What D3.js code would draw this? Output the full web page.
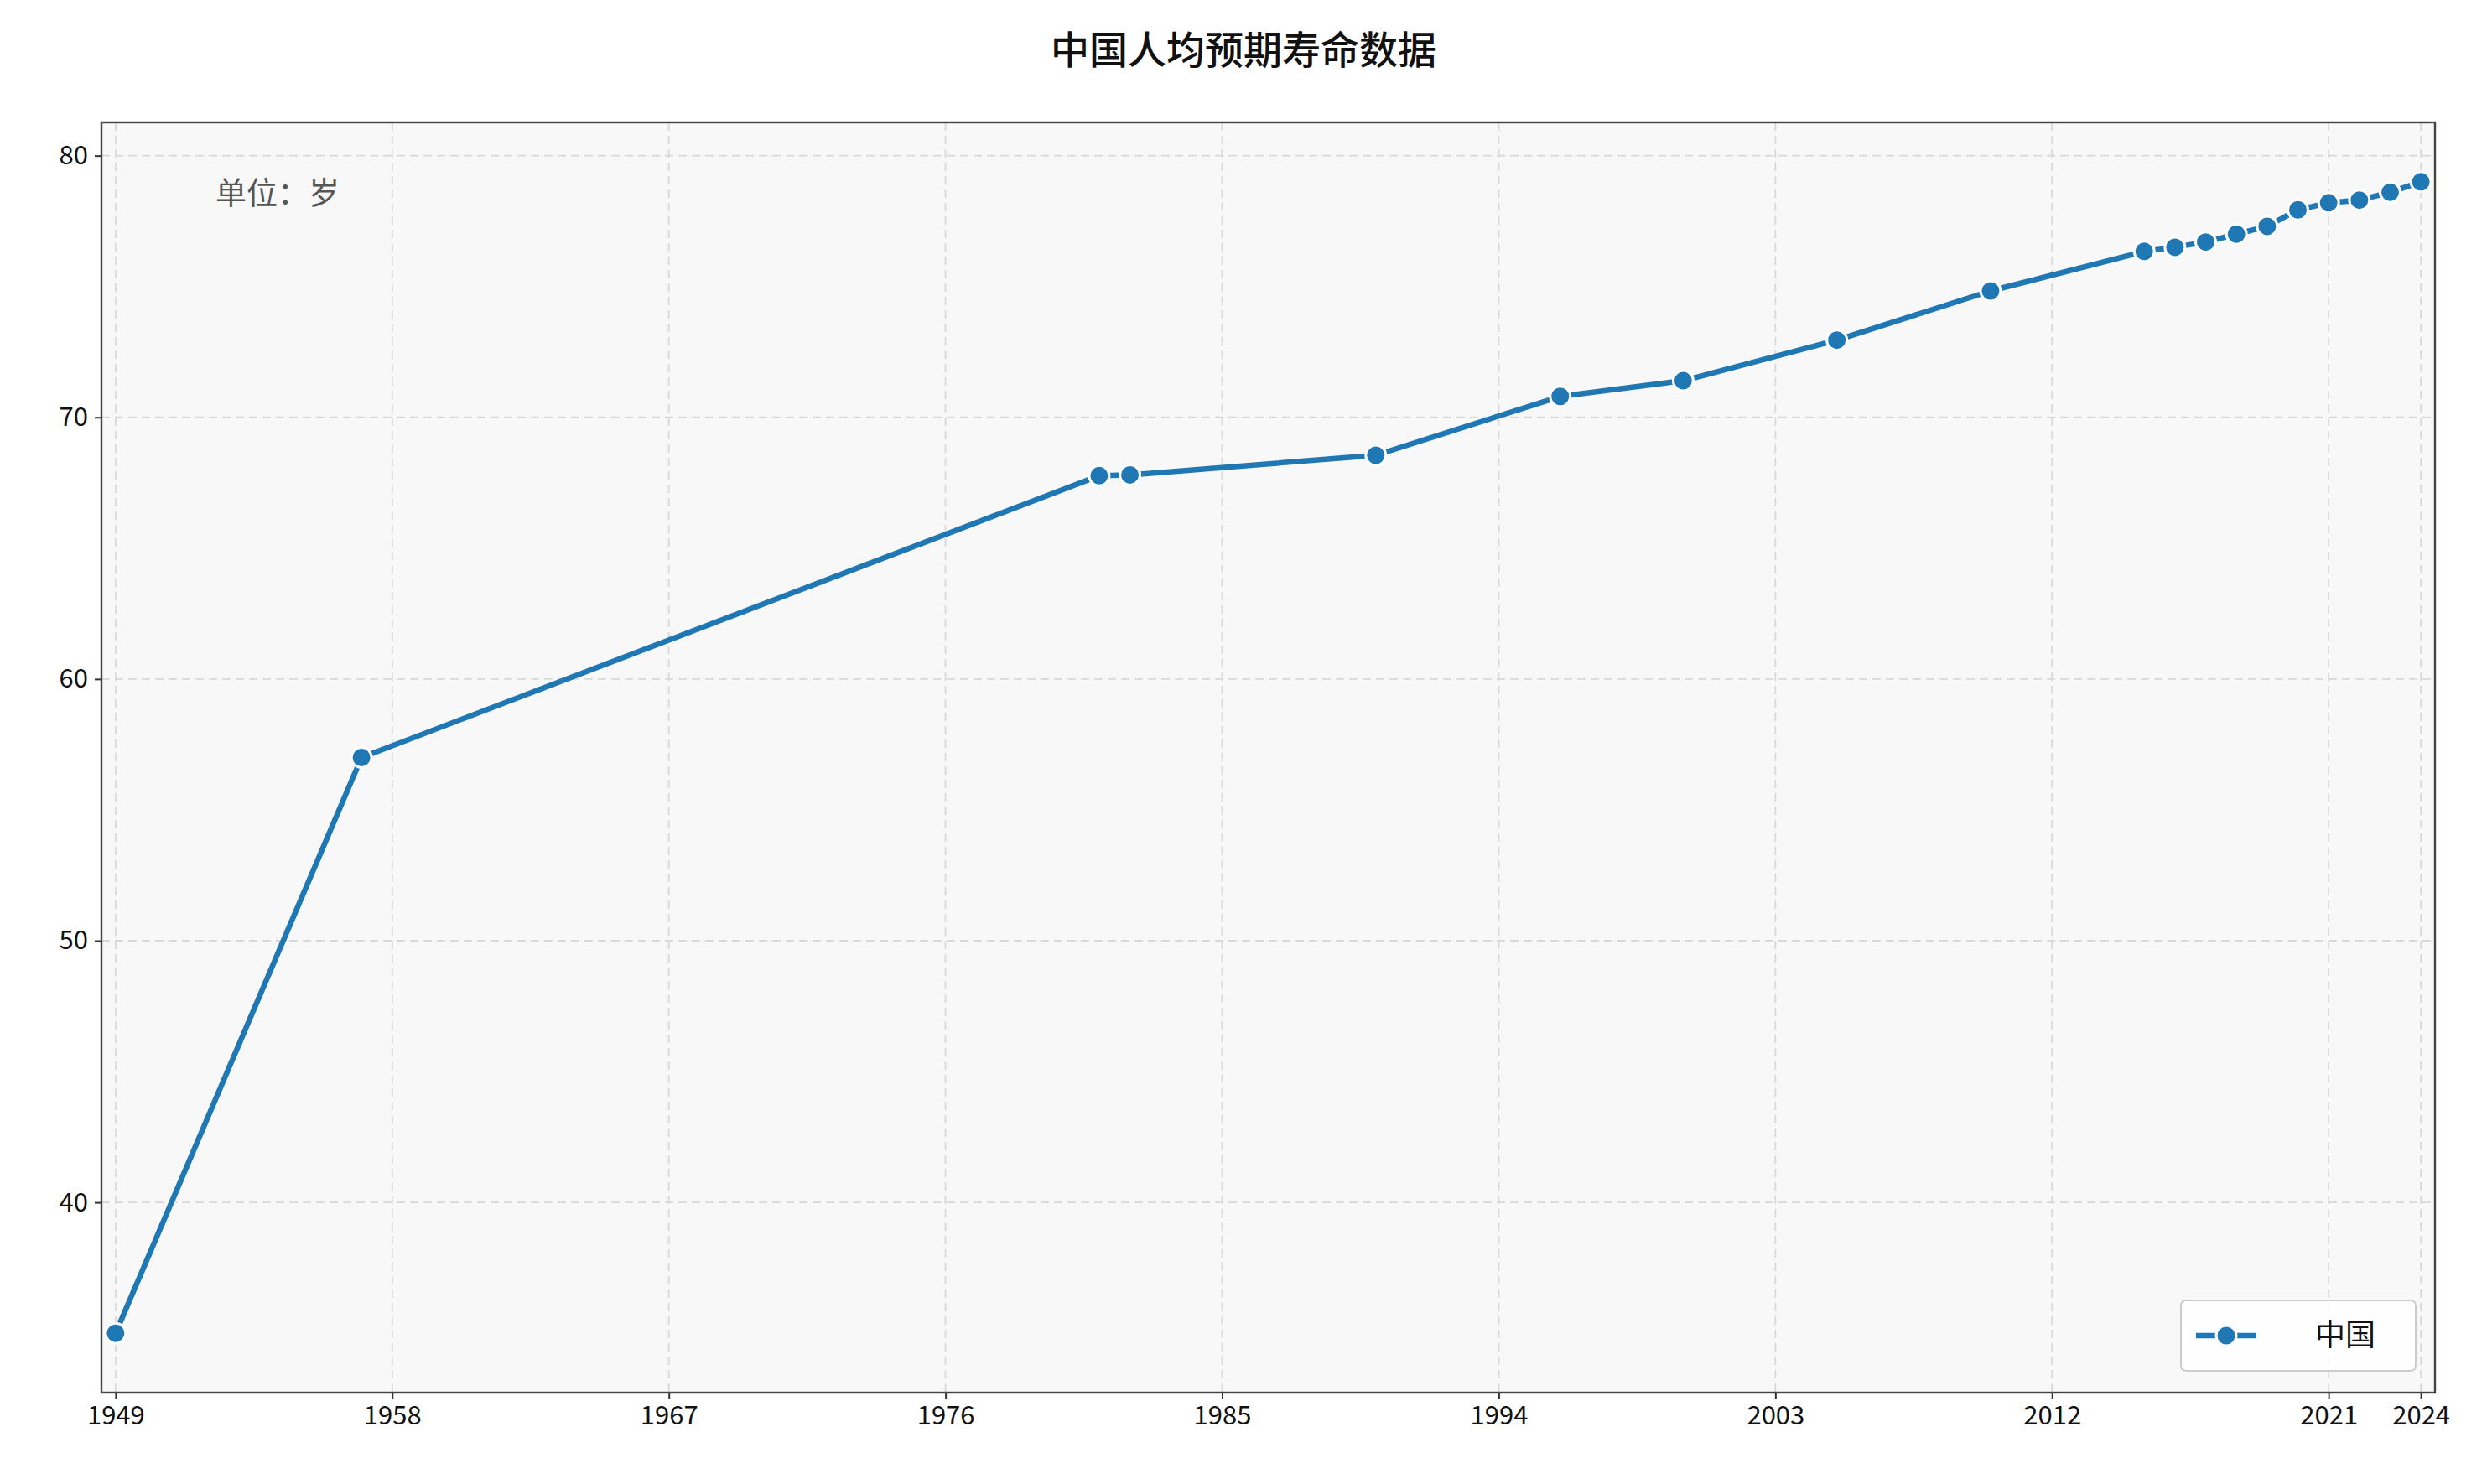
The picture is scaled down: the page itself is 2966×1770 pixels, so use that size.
<!DOCTYPE html>
<html>
<head>
<meta charset="utf-8">
<script src="https://cdn.jsdelivr.net/npm/d3@7"></script>
<style>
  body { margin: 0; background: #fff; }
  text { font-family: "Noto Sans CJK SC", "Noto Sans", sans-serif; }
</style>
</head>
<body>
<script>
"use strict";

// data
var years = [1949, 1957, 1981, 1982, 1990, 1996, 2000, 2005, 2010, 2015, 2016, 2017, 2018, 2019, 2020, 2021, 2022, 2023, 2024];
var lifeExp = [35.0, 57.0, 67.77, 67.8, 68.55, 70.8, 71.4, 72.95, 74.83, 76.34, 76.5, 76.7, 77.0, 77.3, 77.93, 78.2, 78.3, 78.6, 79.0];
var xTicks = [1949, 1958, 1967, 1976, 1985, 1994, 2003, 2012, 2021, 2024];
var yTicks = [40, 50, 60, 70, 80];
var seriesName = "中国";

var W = 2966, H = 1770;
var m = { left: 121, right: 2904, top: 146, bottom: 1661 };
var color = "#1f77b4";

var svg = d3.select("body").append("svg").attr("width", W).attr("height", H);

var x = d3.scaleLinear().domain([1948.54, 2024.46]).range([m.left, m.right]);
var y = d3.scaleLinear().domain([32.73, 81.27]).range([m.bottom, m.top]);

svg.append("rect")
    .attr("x", m.left).attr("y", m.top)
    .attr("width", m.right - m.left).attr("height", m.bottom - m.top)
    .attr("fill", "#f8f8f8");

// grid
svg.selectAll("line.gx").data(xTicks).enter().append("line")
    .attr("x1", function(d) { return x(d); }).attr("x2", function(d) { return x(d); })
    .attr("y1", m.top).attr("y2", m.bottom)
    .attr("stroke", "#d8d8d8").attr("stroke-width", 1.8).attr("stroke-dasharray", "10,6");
svg.selectAll("line.gy").data(yTicks).enter().append("line")
    .attr("x1", m.left).attr("x2", m.right)
    .attr("y1", function(d) { return y(d); }).attr("y2", function(d) { return y(d); })
    .attr("stroke", "#d8d8d8").attr("stroke-width", 1.8).attr("stroke-dasharray", "10,6");

// axes
var xAxis = svg.append("g").attr("transform", "translate(0," + m.bottom + ")")
    .call(d3.axisBottom(x).tickValues(xTicks).tickFormat(d3.format("d")).tickSize(8).tickPadding(8));
var yAxis = svg.append("g").attr("transform", "translate(" + m.left + ",0)")
    .call(d3.axisLeft(y).tickValues(yTicks).tickSize(8).tickPadding(8));
[xAxis, yAxis].forEach(function(a) {
    a.select(".domain").remove();
    a.selectAll("line").attr("stroke", "#333").attr("stroke-width", 2);
    a.selectAll("text").attr("font-size", 31).attr("fill", "#111");
});

svg.append("rect")
    .attr("x", m.left).attr("y", m.top)
    .attr("width", m.right - m.left).attr("height", m.bottom - m.top)
    .attr("fill", "none").attr("stroke", "#444").attr("stroke-width", 2.4);

// line + markers
var pts = years.map(function(d, i) { return [d, lifeExp[i]]; });
svg.append("path").datum(pts)
    .attr("d", d3.line().x(function(d) { return x(d[0]); }).y(function(d) { return y(d[1]); }))
    .attr("fill", "none").attr("stroke", color).attr("stroke-width", 6.5).attr("stroke-linejoin", "round");
svg.selectAll("circle.pt").data(pts).enter().append("circle")
    .attr("cx", function(d) { return x(d[0]); }).attr("cy", function(d) { return y(d[1]); })
    .attr("r", 12).attr("fill", color).attr("stroke", "#fff").attr("stroke-width", 3);

// title + unit
svg.append("text").attr("x", W / 2).attr("y", 76).attr("text-anchor", "middle")
    .attr("font-size", 46).attr("font-weight", 500).attr("fill", "#111").text("中国人均预期寿命数据");
svg.append("text").attr("x", 257).attr("y", 244)
    .attr("font-size", 37).attr("fill", "#555").text("单位：岁");

// legend
var lg = svg.append("g").attr("transform", "translate(2601,1551)");
lg.append("rect").attr("width", 280).attr("height", 84).attr("rx", 6)
    .attr("fill", "#fff").attr("fill-opacity", 0.85).attr("stroke", "#ccc").attr("stroke-width", 2);
lg.append("line").attr("x1", 18).attr("x2", 90).attr("y1", 42).attr("y2", 42)
    .attr("stroke", color).attr("stroke-width", 6.5);
lg.append("circle").attr("cx", 54).attr("cy", 42).attr("r", 12)
    .attr("fill", color).attr("stroke", "#fff").attr("stroke-width", 3);
lg.append("text").attr("x", 160).attr("y", 54).attr("font-size", 36).attr("fill", "#111").text(seriesName);
</script>
</body>
</html>
